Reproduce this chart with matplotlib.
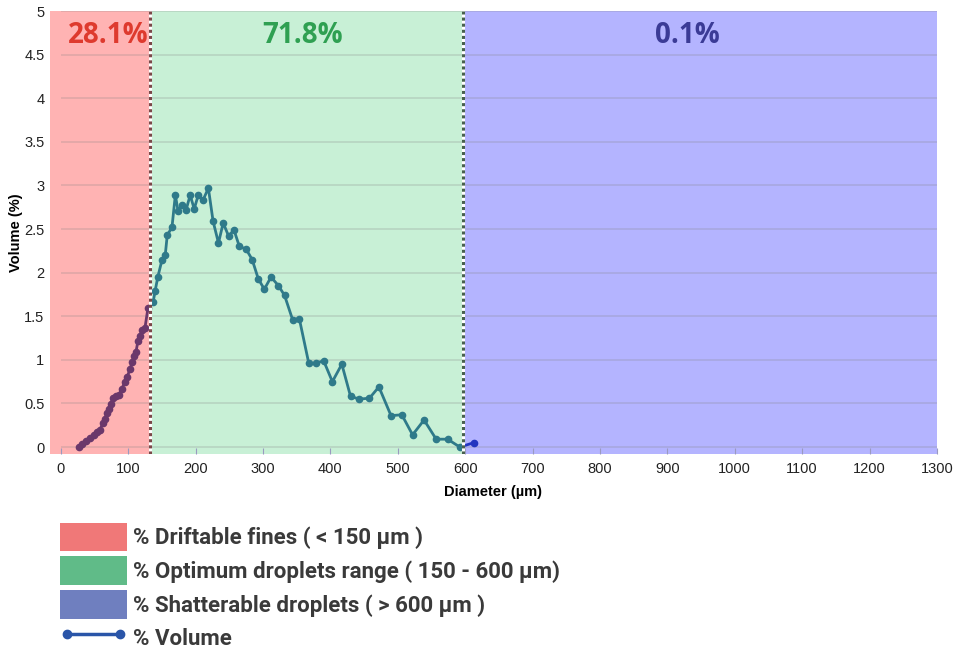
import matplotlib.pyplot as plt
from matplotlib.patches import Patch
from matplotlib.lines import Line2D
import numpy as np

# droplet spectrum
diameter = [26.8, 31.3, 37.2, 43.2, 49.1, 53.6, 58.0, 62.5, 65.5, 68.5, 71.4, 74.4,
            77.4, 81.8, 86.3, 90.8, 95.2, 98.2, 102.7, 105.7, 108.6, 111.6, 114.6,
            117.6, 120.5, 125.0, 129.5,
            137, 140, 144, 150, 155, 158, 165, 170, 174, 180, 186, 192, 198, 204,
            211, 219, 226, 234, 241, 249, 257, 265, 275, 284, 293, 302, 312, 323,
            332, 344, 354, 368, 378, 390, 403, 417, 430, 443, 458, 472, 490, 506,
            522, 539, 557, 574, 592, 613]
volume = [0.00, 0.03, 0.07, 0.10, 0.14, 0.17, 0.20, 0.27, 0.32, 0.39, 0.44, 0.49,
          0.56, 0.58, 0.60, 0.67, 0.75, 0.80, 0.89, 0.97, 1.04, 1.09, 1.22,
          1.27, 1.34, 1.37, 1.60,
          1.66, 1.79, 1.95, 2.14, 2.20, 2.43, 2.52, 2.89, 2.71, 2.78, 2.72, 2.89,
          2.73, 2.89, 2.83, 2.97, 2.59, 2.34, 2.57, 2.42, 2.49, 2.30, 2.27, 2.15,
          1.93, 1.81, 1.95, 1.85, 1.74, 1.46, 1.47, 0.96, 0.96, 0.99, 0.75, 0.95,
          0.58, 0.55, 0.56, 0.69, 0.36, 0.37, 0.14, 0.31, 0.09, 0.09, 0.00, 0.05]

band_edges = [-16, 132, 597, 1300]
band_colors = ['#ffb3b3', '#c8f0d6', '#b4b4ff']
line_colors = ['#6b386b', '#2f7a8a', '#2336c0']
band_pct = ['28.1%', '71.8%', '0.1%']
pct_colors = ['#de3a2e', '#2fa052', '#3b3b96']
pct_x = [70, 359, 930]
divider_colors = ['#7a4848', '#48604e']

legend_labels = ['% Driftable fines ( < 150 µm )',
                 '% Optimum droplets range ( 150 - 600 µm)',
                 '% Shatterable droplets ( > 600 µm )',
                 '% Volume']
legend_colors = ['#f07878', '#60bb88', '#6f7fbf', '#2a55a8']

fig = plt.figure(figsize=(9.61, 6.51), dpi=100)
ax = fig.add_axes([0.052, 0.3026, 0.923, 0.6804])
ax.set_xlim(-16, 1300)
ax.set_ylim(-0.08, 5.0)

spans = []
for i in range(3):
    spans.append(ax.axvspan(band_edges[i], band_edges[i + 1], color=band_colors[i],
                            lw=0, zorder=0))

yt = np.arange(0, 5.01, 0.5)
ax.hlines(yt, 0, 1300, color='#808080', alpha=0.25, lw=1.2, zorder=1)

# same curve drawn once per band, clipped to that band
for i in range(3):
    ln, = ax.plot(diameter, volume, color=line_colors[i], lw=2, marker='o',
                  markersize=4.5, zorder=3)
    ln.set_clip_path(spans[i])

for i, xb in enumerate(band_edges[1:3]):
    ax.axvline(xb, color='white', lw=2.2, zorder=4)
    ax.axvline(xb, color=divider_colors[i], lw=2.2, ls=(0, (1, 1)), zorder=5)

for i in range(3):
    ax.text(pct_x[i], 4.72, band_pct[i], color=pct_colors[i], fontsize=20,
            fontweight='bold', family='Open Sans', ha='center', va='center', zorder=6)

for s in ax.spines.values():
    s.set_visible(False)
ax.set_xticks(np.arange(0, 1301, 100))
ax.set_yticks(yt)
ax.set_yticklabels(['0', '0.5', '1', '1.5', '2', '2.5', '3', '3.5', '4', '4.5', '5'])
ax.tick_params(axis='x', direction='in', length=4, color='#9a9ac0', pad=6,
               labelsize=10.5, labelcolor='#222222')
ax.tick_params(axis='y', length=0, pad=4, labelsize=10.5, labelcolor='#222222')
for lab in ax.get_xticklabels() + ax.get_yticklabels():
    lab.set_family('Liberation Sans')
ax.set_xlabel('Diameter (µm)', fontsize=10.5, fontweight='bold', family='Liberation Sans',
              labelpad=6)
ax.set_ylabel('Volume (%)', fontsize=10.5, fontweight='bold', family='Liberation Sans',
              labelpad=1)

handles = [Patch(facecolor=c, edgecolor='none') for c in legend_colors[:3]]
handles.append(Line2D([0], [0], color=legend_colors[3], lw=2.5, marker='o', markersize=6))
leg = fig.legend(handles, legend_labels, loc='upper left', bbox_to_anchor=(0.0624, 0.197),
                 frameon=False, numpoints=2, handlelength=3.02, handleheight=1.61,
                 handletextpad=0.27, labelspacing=0.22, borderpad=0, borderaxespad=0,
                 prop={'family': 'Roboto', 'weight': 'bold', 'size': 16})
for t in leg.get_texts():
    t.set_color('#3a3a3a')

fig.savefig('out.png', dpi=100)
